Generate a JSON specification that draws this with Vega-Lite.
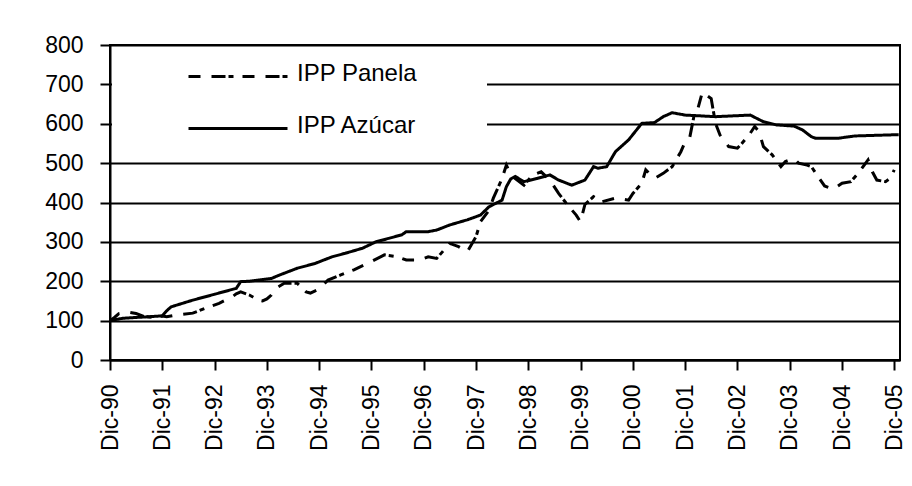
{
  "$schema": "https://vega.github.io/schema/vega-lite/v6.json",
  "width": 790,
  "height": 315,
  "autosize": {"type": "none"},
  "padding": {"left": 110, "top": 45, "right": 12, "bottom": 126},
  "background": "white",
  "config": {
    "font": "Liberation Sans",
    "view": {"stroke": "black", "strokeWidth": 2},
    "axis": {
      "domainColor": "black", "domainWidth": 2,
      "tickColor": "black", "tickWidth": 2, "tickSize": 10,
      "labelColor": "black", "labelFontSize": 23, "labelFont": "Liberation Sans",
      "gridColor": "black", "gridWidth": 2, "gridOpacity": 1
    }
  },
  "datasets": {
    "azucar": [
      {"fecha": "1990-12-01", "valor": 100}, {"fecha": "1991-03-01", "valor": 106}, {"fecha": "1991-06-01", "valor": 108},
      {"fecha": "1991-09-01", "valor": 110}, {"fecha": "1991-12-01", "valor": 112}, {"fecha": "1992-01-01", "valor": 125},
      {"fecha": "1992-02-01", "valor": 135}, {"fecha": "1992-07-01", "valor": 152}, {"fecha": "1992-12-01", "valor": 167},
      {"fecha": "1993-05-01", "valor": 182}, {"fecha": "1993-06-01", "valor": 199}, {"fecha": "1993-08-01", "valor": 200},
      {"fecha": "1994-01-01", "valor": 207}, {"fecha": "1994-03-01", "valor": 216}, {"fecha": "1994-07-01", "valor": 233},
      {"fecha": "1994-11-01", "valor": 245}, {"fecha": "1995-03-01", "valor": 262}, {"fecha": "1995-06-01", "valor": 271},
      {"fecha": "1995-10-01", "valor": 284}, {"fecha": "1996-01-01", "valor": 300}, {"fecha": "1996-04-01", "valor": 309},
      {"fecha": "1996-07-01", "valor": 318}, {"fecha": "1996-08-01", "valor": 326}, {"fecha": "1997-01-01", "valor": 326},
      {"fecha": "1997-03-01", "valor": 330}, {"fecha": "1997-06-01", "valor": 343}, {"fecha": "1997-10-01", "valor": 356},
      {"fecha": "1998-01-01", "valor": 368}, {"fecha": "1998-03-01", "valor": 389}, {"fecha": "1998-06-01", "valor": 406},
      {"fecha": "1998-07-01", "valor": 440}, {"fecha": "1998-08-01", "valor": 460}, {"fecha": "1998-09-01", "valor": 466},
      {"fecha": "1998-11-01", "valor": 453}, {"fecha": "1999-02-01", "valor": 461}, {"fecha": "1999-05-01", "valor": 470},
      {"fecha": "1999-07-01", "valor": 457}, {"fecha": "1999-10-01", "valor": 444}, {"fecha": "2000-01-01", "valor": 457},
      {"fecha": "2000-03-01", "valor": 491}, {"fecha": "2000-04-01", "valor": 487}, {"fecha": "2000-06-01", "valor": 491},
      {"fecha": "2000-08-01", "valor": 529}, {"fecha": "2000-11-01", "valor": 559}, {"fecha": "2001-02-01", "valor": 601},
      {"fecha": "2001-05-01", "valor": 603}, {"fecha": "2001-07-01", "valor": 618}, {"fecha": "2001-09-01", "valor": 628},
      {"fecha": "2001-12-01", "valor": 622}, {"fecha": "2002-07-01", "valor": 618}, {"fecha": "2003-03-01", "valor": 622},
      {"fecha": "2003-06-01", "valor": 605}, {"fecha": "2003-09-01", "valor": 597}, {"fecha": "2004-01-01", "valor": 594},
      {"fecha": "2004-03-01", "valor": 584}, {"fecha": "2004-05-01", "valor": 567}, {"fecha": "2004-06-01", "valor": 563},
      {"fecha": "2004-11-01", "valor": 563}, {"fecha": "2005-03-01", "valor": 569}, {"fecha": "2005-12-01", "valor": 572},
      {"fecha": "2006-01-01", "valor": 572}
    ],
    "panela": [
      {"fecha": "1990-12-01", "valor": 100}, {"fecha": "1991-01-01", "valor": 108}, {"fecha": "1991-02-01", "valor": 118},
      {"fecha": "1991-04-01", "valor": 122}, {"fecha": "1991-06-01", "valor": 118}, {"fecha": "1991-08-01", "valor": 110},
      {"fecha": "1991-10-01", "valor": 108}, {"fecha": "1991-12-01", "valor": 112}, {"fecha": "1992-01-01", "valor": 110},
      {"fecha": "1992-03-01", "valor": 114}, {"fecha": "1992-07-01", "valor": 119}, {"fecha": "1992-10-01", "valor": 132},
      {"fecha": "1993-01-01", "valor": 144}, {"fecha": "1993-04-01", "valor": 160}, {"fecha": "1993-05-01", "valor": 168},
      {"fecha": "1993-06-01", "valor": 173}, {"fecha": "1993-08-01", "valor": 165}, {"fecha": "1993-10-01", "valor": 152},
      {"fecha": "1993-11-01", "valor": 150}, {"fecha": "1993-12-01", "valor": 155}, {"fecha": "1994-01-01", "valor": 165},
      {"fecha": "1994-02-01", "valor": 182}, {"fecha": "1994-04-01", "valor": 195}, {"fecha": "1994-07-01", "valor": 195},
      {"fecha": "1994-09-01", "valor": 173}, {"fecha": "1994-10-01", "valor": 170}, {"fecha": "1994-12-01", "valor": 180},
      {"fecha": "1995-02-01", "valor": 203}, {"fecha": "1995-05-01", "valor": 216}, {"fecha": "1995-08-01", "valor": 229},
      {"fecha": "1995-12-01", "valor": 250}, {"fecha": "1996-03-01", "valor": 267}, {"fecha": "1996-06-01", "valor": 262},
      {"fecha": "1996-08-01", "valor": 254}, {"fecha": "1996-11-01", "valor": 254}, {"fecha": "1997-01-01", "valor": 262},
      {"fecha": "1997-03-01", "valor": 258}, {"fecha": "1997-06-01", "valor": 296}, {"fecha": "1997-08-01", "valor": 288},
      {"fecha": "1997-10-01", "valor": 275}, {"fecha": "1997-12-01", "valor": 313}, {"fecha": "1998-01-01", "valor": 351},
      {"fecha": "1998-03-01", "valor": 380}, {"fecha": "1998-04-01", "valor": 411}, {"fecha": "1998-06-01", "valor": 461},
      {"fecha": "1998-07-01", "valor": 495}, {"fecha": "1998-08-01", "valor": 470}, {"fecha": "1998-09-01", "valor": 461},
      {"fecha": "1998-11-01", "valor": 444}, {"fecha": "1999-01-01", "valor": 470}, {"fecha": "1999-03-01", "valor": 478},
      {"fecha": "1999-05-01", "valor": 457}, {"fecha": "1999-07-01", "valor": 423}, {"fecha": "1999-09-01", "valor": 394},
      {"fecha": "1999-11-01", "valor": 368}, {"fecha": "1999-12-01", "valor": 351}, {"fecha": "2000-01-01", "valor": 395},
      {"fecha": "2000-03-01", "valor": 415}, {"fecha": "2000-05-01", "valor": 402}, {"fecha": "2000-08-01", "valor": 411},
      {"fecha": "2000-11-01", "valor": 406}, {"fecha": "2000-12-01", "valor": 423}, {"fecha": "2001-02-01", "valor": 449},
      {"fecha": "2001-03-01", "valor": 483}, {"fecha": "2001-05-01", "valor": 461}, {"fecha": "2001-07-01", "valor": 474},
      {"fecha": "2001-09-01", "valor": 491}, {"fecha": "2001-11-01", "valor": 529}, {"fecha": "2001-12-01", "valor": 554},
      {"fecha": "2002-01-01", "valor": 563}, {"fecha": "2002-02-01", "valor": 620}, {"fecha": "2002-03-01", "valor": 640},
      {"fecha": "2002-04-01", "valor": 681}, {"fecha": "2002-05-01", "valor": 672}, {"fecha": "2002-06-01", "valor": 664},
      {"fecha": "2002-07-01", "valor": 601}, {"fecha": "2002-08-01", "valor": 572}, {"fecha": "2002-10-01", "valor": 542},
      {"fecha": "2002-12-01", "valor": 538}, {"fecha": "2003-01-01", "valor": 550}, {"fecha": "2003-03-01", "valor": 576},
      {"fecha": "2003-04-01", "valor": 593}, {"fecha": "2003-05-01", "valor": 580}, {"fecha": "2003-06-01", "valor": 542},
      {"fecha": "2003-08-01", "valor": 521}, {"fecha": "2003-10-01", "valor": 491}, {"fecha": "2003-11-01", "valor": 504},
      {"fecha": "2004-01-01", "valor": 512}, {"fecha": "2004-02-01", "valor": 500}, {"fecha": "2004-04-01", "valor": 495},
      {"fecha": "2004-05-01", "valor": 491}, {"fecha": "2004-06-01", "valor": 474}, {"fecha": "2004-08-01", "valor": 442},
      {"fecha": "2004-10-01", "valor": 434}, {"fecha": "2004-12-01", "valor": 449}, {"fecha": "2005-02-01", "valor": 453},
      {"fecha": "2005-03-01", "valor": 465}, {"fecha": "2005-04-01", "valor": 478}, {"fecha": "2005-06-01", "valor": 508},
      {"fecha": "2005-07-01", "valor": 478}, {"fecha": "2005-08-01", "valor": 457}, {"fecha": "2005-10-01", "valor": 453},
      {"fecha": "2005-11-01", "valor": 461}, {"fecha": "2005-12-01", "valor": 483}
    ]
  },
  "layer": [
    {
      "data": {"name": "panela"},
      "transform": [{"calculate": "'IPP Panela'", "as": "serie"}],
      "mark": {"type": "line", "strokeWidth": 3, "color": "black"},
      "encoding": {
        "x": {"field": "fecha", "type": "temporal"},
        "y": {"field": "valor", "type": "quantitative"},
        "strokeDash": {"field": "serie", "type": "nominal"}
      }
    },
    {
      "data": {"name": "azucar"},
      "transform": [{"calculate": "'IPP Azúcar'", "as": "serie"}],
      "mark": {"type": "line", "strokeWidth": 3, "color": "black"},
      "encoding": {
        "x": {"field": "fecha", "type": "temporal"},
        "y": {"field": "valor", "type": "quantitative"},
        "strokeDash": {"field": "serie", "type": "nominal"}
      }
    }
  ],
  "encoding": {
    "x": {
      "field": "fecha", "type": "temporal", "title": null,
      "scale": {"type": "utc", "domain": [{"year": 1990, "month": 12, "date": 1, "utc": true}, {"year": 2006, "month": 1, "date": 10, "utc": true}]},
      "axis": {
        "values": [
          {"year": 1990, "month": 12, "date": 1, "utc": true}, {"year": 1991, "month": 12, "date": 1, "utc": true},
          {"year": 1992, "month": 12, "date": 1, "utc": true}, {"year": 1993, "month": 12, "date": 1, "utc": true},
          {"year": 1994, "month": 12, "date": 1, "utc": true}, {"year": 1995, "month": 12, "date": 1, "utc": true},
          {"year": 1996, "month": 12, "date": 1, "utc": true}, {"year": 1997, "month": 12, "date": 1, "utc": true},
          {"year": 1998, "month": 12, "date": 1, "utc": true}, {"year": 1999, "month": 12, "date": 1, "utc": true},
          {"year": 2000, "month": 12, "date": 1, "utc": true}, {"year": 2001, "month": 12, "date": 1, "utc": true},
          {"year": 2002, "month": 12, "date": 1, "utc": true}, {"year": 2003, "month": 12, "date": 1, "utc": true},
          {"year": 2004, "month": 12, "date": 1, "utc": true}, {"year": 2005, "month": 12, "date": 1, "utc": true}
        ],
        "labelExpr": "'Dic-' + utcFormat(datum.value, '%y')",
        "labelAngle": -90, "labelPadding": 14, "grid": false, "labelOverlap": false, "labelFlush": false
      }
    },
    "y": {
      "field": "valor", "type": "quantitative", "title": null,
      "scale": {"domain": [0, 800], "nice": false},
      "axis": {"values": [0, 100, 200, 300, 400, 500, 600, 700, 800], "grid": true, "labelPadding": 17}
    },
    "strokeDash": {
      "field": "serie", "type": "nominal",
      "scale": {"domain": ["IPP Panela", "IPP Azúcar"], "range": [[12, 11, 14, 3, 5, 9], [1, 0]]},
      "legend": {
        "title": null, "orient": "none", "legendX": 2, "legendY": 11.5, "direction": "vertical",
        "fillColor": "white", "padding": 5,
        "symbolType": "M-4.95,0.3L4.95,0.3", "symbolSize": 400, "symbolStrokeWidth": 3,
        "symbolStrokeColor": "black", "symbolFillColor": "transparent", "symbolOffset": 109,
        "labelOffset": 47, "labelFontSize": 24, "labelFont": "Liberation Sans", "labelColor": "black",
        "labelLimit": 0, "rowPadding": 28,
        "labelExpr": "datum.label + '\u00a0\u00a0\u00a0\u00a0\u00a0\u00a0\u00a0\u2800'"
      }
    }
  }
}
